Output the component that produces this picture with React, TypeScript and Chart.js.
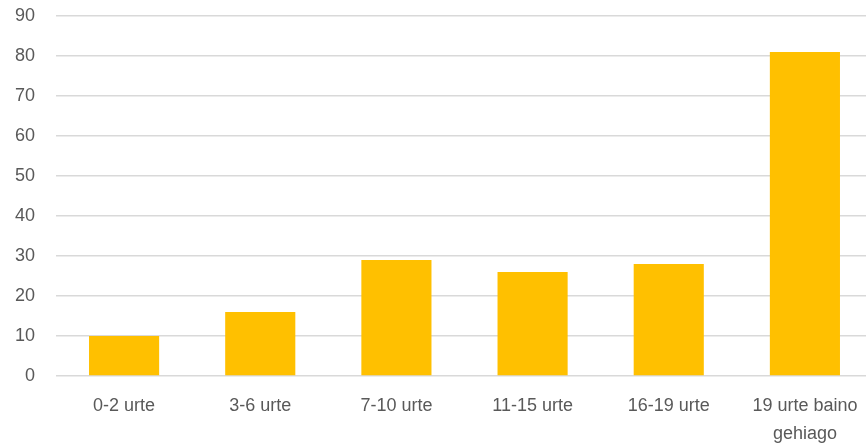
import React, { useEffect, useRef } from "react";
import { Chart, registerables } from "chart.js";

Chart.register(...registerables);

const categories: (string | string[])[] = [
  "0-2 urte",
  "3-6 urte",
  "7-10 urte",
  "11-15 urte",
  "16-19 urte",
  ["19 urte baino", "gehiago"],
];
const values = [10, 16, 29, 26, 28, 81];
const yMin = 0;
const yMax = 90;
const yStep = 10;

export default function App() {
  const ref = useRef<HTMLCanvasElement | null>(null);
  useEffect(() => {
    if (!ref.current) return;
    const chart = new Chart(ref.current, {
      type: "bar",
      data: {
        labels: categories,
        datasets: [
          {
            data: values,
            backgroundColor: "#FFC000",
            borderWidth: 0,
            barPercentage: 0.515,
            categoryPercentage: 1,
          },
        ],
      },
      options: {
        animation: false,
        responsive: true,
        maintainAspectRatio: false,
        layout: { padding: { top: 16, right: 0, bottom: 0, left: 0 } },
        plugins: { legend: { display: false }, tooltip: { enabled: false } },
        scales: {
          x: {
            grid: { display: false, drawTicks: false },
            border: { display: false },
            ticks: {
              color: "#595959",
              font: { family: "Liberation Sans", size: 18, lineHeight: 1.55 },
              padding: 16,
              maxRotation: 0,
              autoSkip: false,
            },
            afterFit: (s: any) => {
              s.height = 68;
              s.paddingTop = 0;
              s.paddingBottom = 0;
              s.paddingLeft = 0;
              s.paddingRight = 0;
            },
          },
          y: {
            min: yMin,
            max: yMax,
            grid: { color: "#d9d9d9", lineWidth: 1.5, drawTicks: false },
            border: { display: false },
            ticks: {
              stepSize: yStep,
              color: "#595959",
              font: { family: "Liberation Sans", size: 18 },
              padding: 21,
            },
            afterFit: (s: any) => {
              s.width = 56;
              s.paddingTop = 0;
              s.paddingBottom = 0;
            },
          },
        },
      },
    });
    return () => chart.destroy();
  }, []);
  return (
    <div style={{ position: "fixed", left: 0, top: 0, width: 873, height: 444, background: "#fff" }}>
      <canvas ref={ref} />
    </div>
  );
}
